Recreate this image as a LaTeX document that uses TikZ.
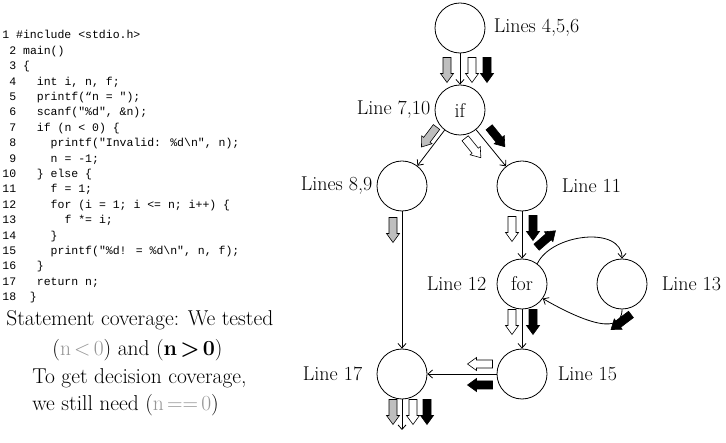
\documentclass[tikz,border=0pt]{standalone}
\usepackage{fontspec}
\newfontfamily\codefont{Liberation Mono}
\usetikzlibrary{arrows.meta,positioning}
\definecolor{arrgray}{RGB}{190,190,190}
\definecolor{txtgray}{RGB}{150,150,150}
\newcommand{\lblfont}{\fontsize{20}{22}\selectfont}
\newcommand{\notefont}{\fontsize{21.5}{24}\selectfont}
\newcommand{\tsp}{\hspace{0.15em}}
\tikzset{
  blk/.pic={\path[pic actions] (-4,12.5) -- (4,12.5) -- (4,-3.5) -- (6.5,-3.5)
    -- (0,-12.5) -- (-6.5,-3.5) -- (-4,-3.5) -- cycle;},
}

\begin{document}
\begin{tikzpicture}[x=1pt,y=1pt,line width=0.8pt,
    >={Straight Barb[length=4.5pt,width=8pt]},
    blob/.style={circle,draw,fill=white,minimum size=50pt,inner sep=0pt,font=\lblfont},
    lbl/.style={inner sep=0pt,font=\lblfont},
    code/.style={inner sep=0pt,anchor=base west,font=\codefont\fontsize{11.5}{14}\selectfont},
    note/.style={inner sep=0pt,anchor=west,font=\notefont},
    ga/.style={draw,fill=arrgray,line width=0.6pt},
    wa/.style={draw,fill=white,line width=0.6pt},
    ka/.style={draw,fill=black,line width=0.6pt}]
  \useasboundingbox (0,0) rectangle (726,-443);
  % source listing
  \foreach \codeln [count=\k] in {{1~\#include <stdio.h>},{~2~main()},{~3~\{},
      {~4~~~int i, n, f;},{~5~~~printf(“n = ");},{~6~~~scanf("\%d", \&n);},
      {~7~~~if (n < 0) \{},{~8~~~~~printf("Invalid: \%d\textbackslash n", n);},
      {~9~~~~~n = -1;},{10~~~\} else \{},{11~~~~~f = 1;},
      {12~~~~~for (i = 1; i <= n; i++) \{},{13~~~~~~~f *= i;},{14~~~~~\}},
      {15~~~~~printf("\%d! = \%d\textbackslash n", n, f);},{16~~~\}},
      {17~~~return n;},{18~~\}}}{
    \node[code] (c\k) at (2,{-39-15.4*(\k-1)}) {\codeln};
  }
  % remarks
  \node[note] (n1) at (6,-320) {Statement coverage: We tested};
  \node[note] (n2) at (52,-350) {(\textcolor{txtgray}{n\tsp<\tsp0}) and (\textbf{n\tsp>\tsp0})};
  \node[note] (n3) at (32,-378) {To get decision coverage,};
  \node[note] (n4) at (32,-405) {we still need (\textcolor{txtgray}{n\tsp==\tsp0})};
  % flow graph
  \node[blob] (top) at (460,-28) {};
  \node[blob] (if) at (460,-110) {if};
  \node[blob] (L89) at (402,-186) {};
  \node[blob] (L11) at (522,-186) {};
  \node[blob] (for) at (522,-284) {for};
  \node[blob] (L13) at (622,-284) {};
  \node[blob] (L15) at (522,-374) {};
  \node[blob] (L17) at (402,-374) {};
  \coordinate (exit) at (402,-430);
  \node[lbl,right=8pt of top] (ltop) {Lines 4,5,6};
  \node[lbl,left=4pt of if] (lif) {Line 7,10};
  \node[lbl,left=4pt of L89] (l89) {Lines 8,9};
  \node[lbl,right=14pt of L11] (l11) {Line 11};
  \node[lbl,left=10pt of for] (lfor) {Line 12};
  \node[lbl,right=14pt of L13] (l13) {Line 13};
  \node[lbl,right=10pt of L15] (l15) {Line 15};
  \node[lbl,left=14pt of L17] (l17) {Line 17};
  \draw[->] (top) -- (if);
  \draw[->] (if) -- (L89);
  \draw[->] (if) -- (L11);
  \draw[->] (L11) -- (for);
  \draw[->] (for.53) to[out=65,in=90] (L13.north);
  \draw[->] (L13.south) to[out=-90,in=-30] (for.-35);
  \draw[->] (for) -- (L15);
  \draw[->] (L15) -- (L17);
  \draw[->] (L89) -- (L17);
  \draw[->] (L17) -- (exit);
  % test runs
  \pic[ga] at (447,-70) {blk};
  \pic[wa] at (472,-70) {blk};
  \pic[ka] at (487,-70) {blk};
  \pic[ga,rotate=-37] at (429,-137) {blk};
  \pic[wa,rotate=39] at (473,-148) {blk};
  \pic[ka,rotate=39] at (497,-137) {blk};
  \pic[ga] at (393,-230) {blk};
  \pic[wa] at (512,-229) {blk};
  \pic[ka] at (533,-228) {blk};
  \pic[ka,rotate=131] at (546,-239) {blk};
  \pic[wa] at (512,-322) {blk};
  \pic[ka] at (533,-322) {blk};
  \pic[ka,rotate=-53] at (621,-322) {blk};
  \pic[wa,rotate=-90] at (480,-364) {blk};
  \pic[ka,rotate=-90] at (480,-385) {blk};
  \pic[ga] at (393,-412) {blk};
  \pic[wa] at (413,-412) {blk};
  \pic[ka] at (427,-412) {blk};
\end{tikzpicture}
\end{document}
